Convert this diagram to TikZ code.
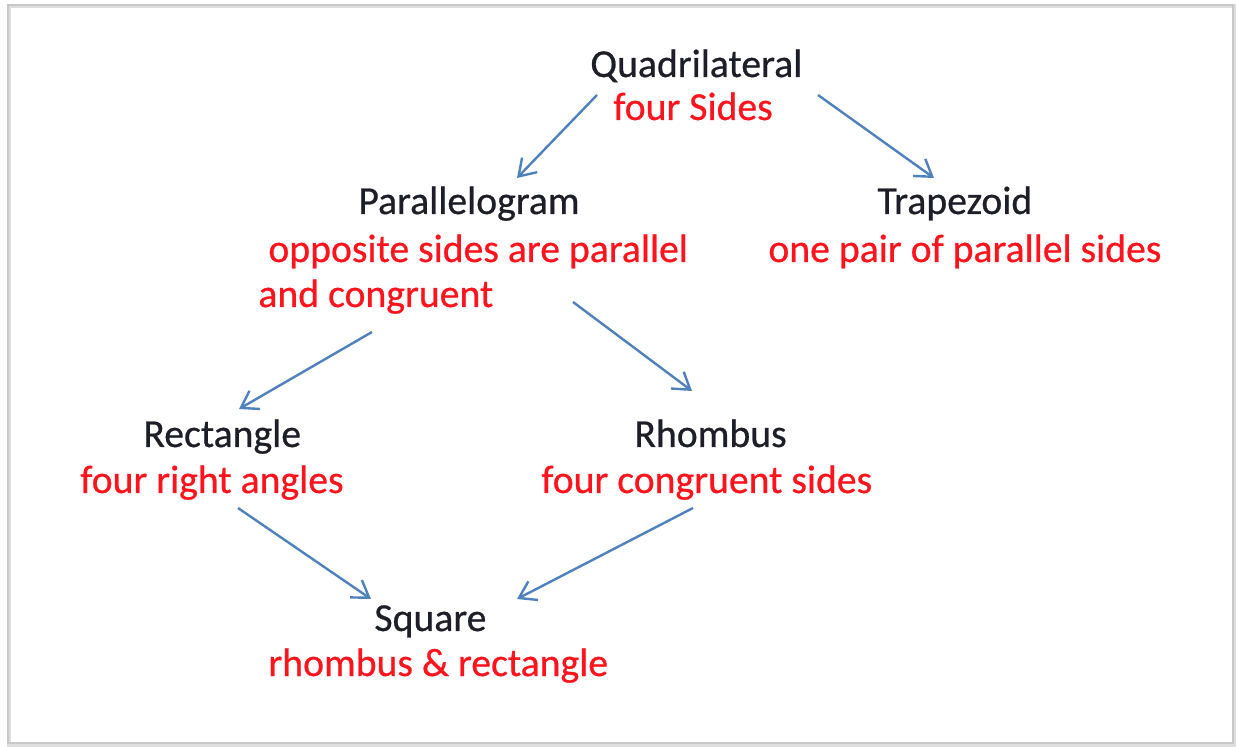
\documentclass[tikz,border=0pt]{standalone}
\usepackage{fontspec}
\setmainfont{Carlito}
\newfontfamily\diagfont{Carlito}[FakeBold=0.6]
\usetikzlibrary{arrows.meta}
\definecolor{txtblack}{RGB}{30,30,40}
\definecolor{txtred}{RGB}{255,20,30}
\definecolor{arrowblue}{RGB}{79,129,189}
\definecolor{framegray}{RGB}{200,200,200}
\tikzset{
  title/.style={anchor=base west, inner sep=0pt, text=txtblack, font=\diagfont\fontsize{19.85}{24}\selectfont},
  desc/.style={anchor=base west, inner sep=0pt, text=txtred, font=\diagfont\fontsize{19.85}{24}\selectfont},
  conn/.style={draw=arrowblue, line width=1.2pt, -{Straight Barb[length=8pt,width=10.5pt,line width=1.2pt]}},
}
\begin{document}
\begin{tikzpicture}[x=0.5pt,y=-0.5pt]
\useasboundingbox (0,0) rectangle (1236,747);
\fill[white] (0,0) rectangle (1236,747);
% frame with soft shadow
\draw[framegray!60, line width=2pt] (9,6) rectangle (1234,745);
\draw[framegray, line width=1pt] (8,5) rectangle (1233,743);

\node[title] (quad) at (590,77) {Quadrilateral};
\node[desc] (quadd) at (613,120) {four Sides};
\node[title] (para) at (358,214) {Parallelogram};
\node[desc] (parad1) at (268,262) {opposite sides are parallel};
\node[desc] (parad2) at (258,307) {and congruent};
\node[title] (trap) at (877,214) {Trapezoid};
\node[desc] (trapd) at (768,262) {one pair of parallel sides};
\node[title] (rect) at (143,447) {Rectangle};
\node[desc] (rectd) at (80,493) {four right angles};
\node[title] (rhom) at (634,447) {Rhombus};
\node[desc] (rhomd) at (541,493) {four congruent sides};
\node[title] (sq) at (374,631) {Square};
\node[desc] (sqd) at (268,676) {rhombus \& rectangle};

\coordinate (a1s) at (597,95);  \coordinate (a1e) at (517,178);
\coordinate (a2s) at (818,95);  \coordinate (a2e) at (934,178);
\coordinate (a3s) at (372,332); \coordinate (a3e) at (239,409);
\coordinate (a4s) at (573,302); \coordinate (a4e) at (692,391);
\coordinate (a5s) at (238,508); \coordinate (a5e) at (371,599);
\coordinate (a6s) at (693,508); \coordinate (a6e) at (517,599);

\draw[conn] (a1s) -- (a1e);
\draw[conn] (a2s) -- (a2e);
\draw[conn] (a3s) -- (a3e);
\draw[conn] (a4s) -- (a4e);
\draw[conn] (a5s) -- (a5e);
\draw[conn] (a6s) -- (a6e);
\end{tikzpicture}
\end{document}
